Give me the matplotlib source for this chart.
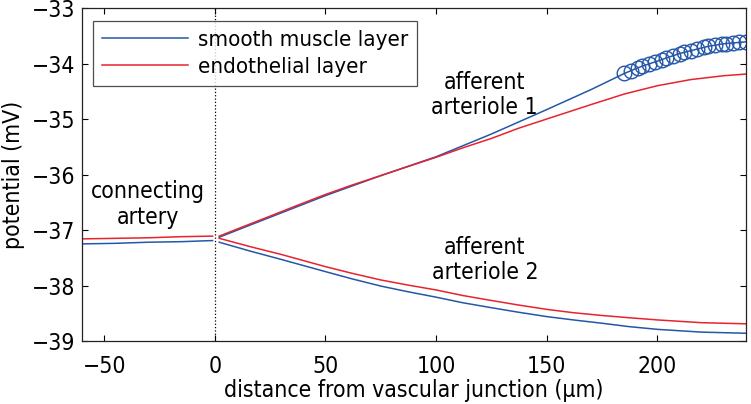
import matplotlib
matplotlib.use("Agg")
import matplotlib.pyplot as plt

# connecting artery
x_ca = [-60, -45, -30, -15, -1]
sm_ca = [-37.25, -37.24, -37.22, -37.21, -37.19]
ec_ca = [-37.16, -37.15, -37.14, -37.12, -37.11]

# afferent arteriole 1
x_aa1 = [2, 16, 25, 50, 75, 100, 125, 150, 170,
         185, 188, 191, 193, 196, 199, 202, 204, 207, 210, 212,
         215, 218, 221, 223, 226, 229, 231, 234, 237, 240]
sm_aa1 = [-37.13, -36.91, -36.77, -36.38, -36.02, -35.68, -35.27, -34.83, -34.47,
          -34.18, -34.13, -34.08, -34.05, -34.01, -33.97, -33.93, -33.90, -33.86, -33.82, -33.80,
          -33.77, -33.74, -33.71, -33.69, -33.67, -33.65, -33.64, -33.63, -33.62, -33.61]
x_aa1_ec = [2, 16, 25, 37, 50, 62, 75, 87, 100, 112, 125, 137, 150, 160, 170,
            185, 200, 215, 230, 240]
ec_aa1 = [-37.11, -36.89, -36.75, -36.56, -36.36, -36.19, -36.02, -35.86, -35.69, -35.52,
          -35.35, -35.17, -35.00, -34.87, -34.74, -34.55, -34.40, -34.29, -34.22, -34.19]
n_marked = 21  # last points of the smooth muscle line shown with circles

# afferent arteriole 2
x_aa2 = [2, 16, 30, 50, 62, 75, 87, 100, 112, 125, 137, 150, 162, 175, 187, 200, 220, 240]
sm_aa2 = [-37.22, -37.38, -37.53, -37.75, -37.88, -38.01, -38.11, -38.21, -38.31, -38.40,
          -38.48, -38.56, -38.62, -38.68, -38.74, -38.79, -38.84, -38.86]
ec_aa2 = [-37.15, -37.30, -37.44, -37.66, -37.78, -37.90, -37.99, -38.08, -38.18, -38.27,
          -38.35, -38.43, -38.49, -38.54, -38.58, -38.62, -38.67, -38.69]

blue = '#2457a8'
red = '#e8232f'
fs = 16.5
lw = 1.1

plt.rcParams['font.family'] = ['DejaVu Sans']
plt.rcParams['font.stretch'] = 'condensed'

fig = plt.figure(figsize=(7.51, 4.04), dpi=100)
ax = fig.add_axes([0.1092, 0.1559, 0.8841, 0.8243])

ax.axvline(0, color='k', linestyle=':', linewidth=0.9)

ax.plot(x_ca, sm_ca, color=blue, linewidth=lw, label='smooth muscle layer')
ax.plot(x_ca, ec_ca, color=red, linewidth=lw, label='endothelial layer')
ax.plot(x_aa1, sm_aa1, color=blue, linewidth=lw)
ax.plot(x_aa1[-n_marked:], sm_aa1[-n_marked:], linestyle='', marker='o',
        markersize=10.5, markerfacecolor='none', markeredgecolor=blue, markeredgewidth=1.0)
ax.plot(x_aa1_ec, ec_aa1, color=red, linewidth=lw)
ax.plot(x_aa2, sm_aa2, color=blue, linewidth=lw)
ax.plot(x_aa2, ec_aa2, color=red, linewidth=lw)

ax.text(-30.4, -36.54, 'connecting\nartery', ha='center', va='center', fontsize=fs,
        linespacing=1.12)
ax.text(122, -34.57, 'afferent\narteriole 1', ha='center', va='center', fontsize=fs,
        linespacing=1.12)
ax.text(122, -37.54, 'afferent\narteriole 2', ha='center', va='center', fontsize=fs,
        linespacing=1.12)

ax.set_xlim(-60, 240)
ax.set_ylim(-39, -33)
ax.set_xticks([-50, 0, 50, 100, 150, 200])
ax.set_yticks([-39, -38, -37, -36, -35, -34, -33])
ax.tick_params(direction='in', top=True, right=True, length=4, width=0.8,
               labelsize=fs)
ax.tick_params(axis='x', pad=10)
ax.tick_params(axis='y', pad=5)
for s in ax.spines.values():
    s.set_linewidth(0.9)
    s.set_color('#222222')

ax.set_xlabel('distance from vascular junction (\u03bcm)', fontsize=fs, labelpad=1)
ax.set_ylabel('potential (mV)', fontsize=fs, labelpad=5)

leg = ax.legend(loc='upper left', bbox_to_anchor=(0.016, 0.96), fontsize=16,
                handlelength=3.9, handletextpad=0.45, labelspacing=0.3,
                borderpad=0.4, borderaxespad=0, frameon=True, fancybox=False)
leg.get_frame().set_edgecolor('#222222')
leg.get_frame().set_linewidth(0.9)

fig.savefig('out.png', dpi=100)
